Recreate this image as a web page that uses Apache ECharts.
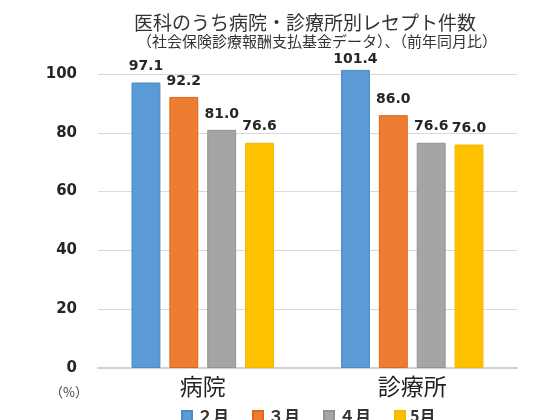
<!DOCTYPE html>
<html>
<head>
<meta charset="utf-8">
<script src="https://cdn.jsdelivr.net/npm/echarts@6/dist/echarts.min.js"></script>
<style>
  html, body { margin: 0; padding: 0; background: #ffffff; }
  #main { width: 560px; height: 420px; }
</style>
</head>
<body>
<div id="main"></div>
<script>
// 区分（病院・診療所）
var categories = ['病院', '診療所'];
// 月ごとの前年同月比（%）
var seriesNames = ['２月', '３月', '４月', '5月'];
var feb = [97.1, 101.4];
var mar = [92.2, 86.0];
var apr = [81.0, 76.6];
var may = [76.6, 76.0];
var yTicks = [0, 20, 40, 60, 80, 100];

var colors = ['#5b9bd5', '#ed7d31', '#a5a5a5', '#ffc000'];
var borders = ['#4a8ac8', '#e0661e', '#939393', '#f5b800'];

var chart = echarts.init(document.getElementById('main'));

function makeSeries(name, values, i) {
  return {
    name: name,
    type: 'bar',
    barGap: '31%',
    barCategoryGap: '32%',
    clip: false,
    itemStyle: { color: colors[i], borderColor: borders[i], borderWidth: 1 },
    label: {
      show: true,
      position: 'top',
      distance: 9,
      fontFamily: 'DejaVu Sans',
      fontWeight: 'bold',
      fontSize: 14,
      color: '#262626',
      formatter: function (p) { return p.value.toFixed(1); }
    },
    data: values.map(function (v) {
      // 100を超える値はラベルを棒に寄せる
      if (v > 100) return { value: v, label: { distance: 4 } };
      return v;
    })
  };
}

var option = {
  backgroundColor: '#ffffff',
  animation: false,
  title: [{
    text: '医科のうち病院・診療所別レセプト件数',
    left: 300,
    top: 8,
    textAlign: 'center',
    textStyle: { fontFamily: 'Noto Sans CJK JP', fontSize: 19, fontWeight: 'normal', color: '#333333' }
  }, {
    text: '（社会保険診療報酬支払基金データ）、（前年同月比）',
    left: 312,
    top: 29,
    textAlign: 'center',
    textStyle: { fontFamily: 'Noto Sans CJK JP', fontSize: 15, fontWeight: 'normal', color: '#333333' }
  }],
  legend: {
    data: seriesNames,
    left: 176,
    top: 403,
    icon: 'rect',
    itemWidth: 10,
    itemHeight: 10,
    itemGap: 23,
    textStyle: { fontFamily: 'Noto Sans CJK JP', fontSize: 16, fontWeight: 'bold', color: '#333333' }
  },
  grid: { left: 98, right: 43, top: 74, bottom: 52 },
  xAxis: {
    type: 'category',
    data: categories,
    axisTick: { show: false },
    axisLine: { lineStyle: { color: '#d0d0d0', width: 2 } },
    axisLabel: { margin: 7, fontFamily: 'Noto Sans CJK JP', fontSize: 23, color: '#222222' }
  },
  yAxis: {
    type: 'value',
    min: 0,
    max: 100,
    interval: 20,
    axisLine: { show: false },
    axisTick: { show: false },
    splitLine: { lineStyle: { color: '#d9d9d9' } },
    axisLabel: {
      margin: 21,
      fontFamily: 'DejaVu Sans',
      fontWeight: 'bold',
      fontSize: 15,
      color: '#262626',
      formatter: function (v) { return yTicks.indexOf(v) >= 0 ? String(v) : ''; }
    }
  },
  graphic: [{
    type: 'text',
    left: 50,
    top: 386,
    style: { text: '（%）', font: '13px "Noto Sans CJK JP"', fill: '#404040' }
  }],
  series: [
    makeSeries(seriesNames[0], feb, 0),
    makeSeries(seriesNames[1], mar, 1),
    makeSeries(seriesNames[2], apr, 2),
    makeSeries(seriesNames[3], may, 3)
  ]
};

chart.setOption(option);
</script>
</body>
</html>
